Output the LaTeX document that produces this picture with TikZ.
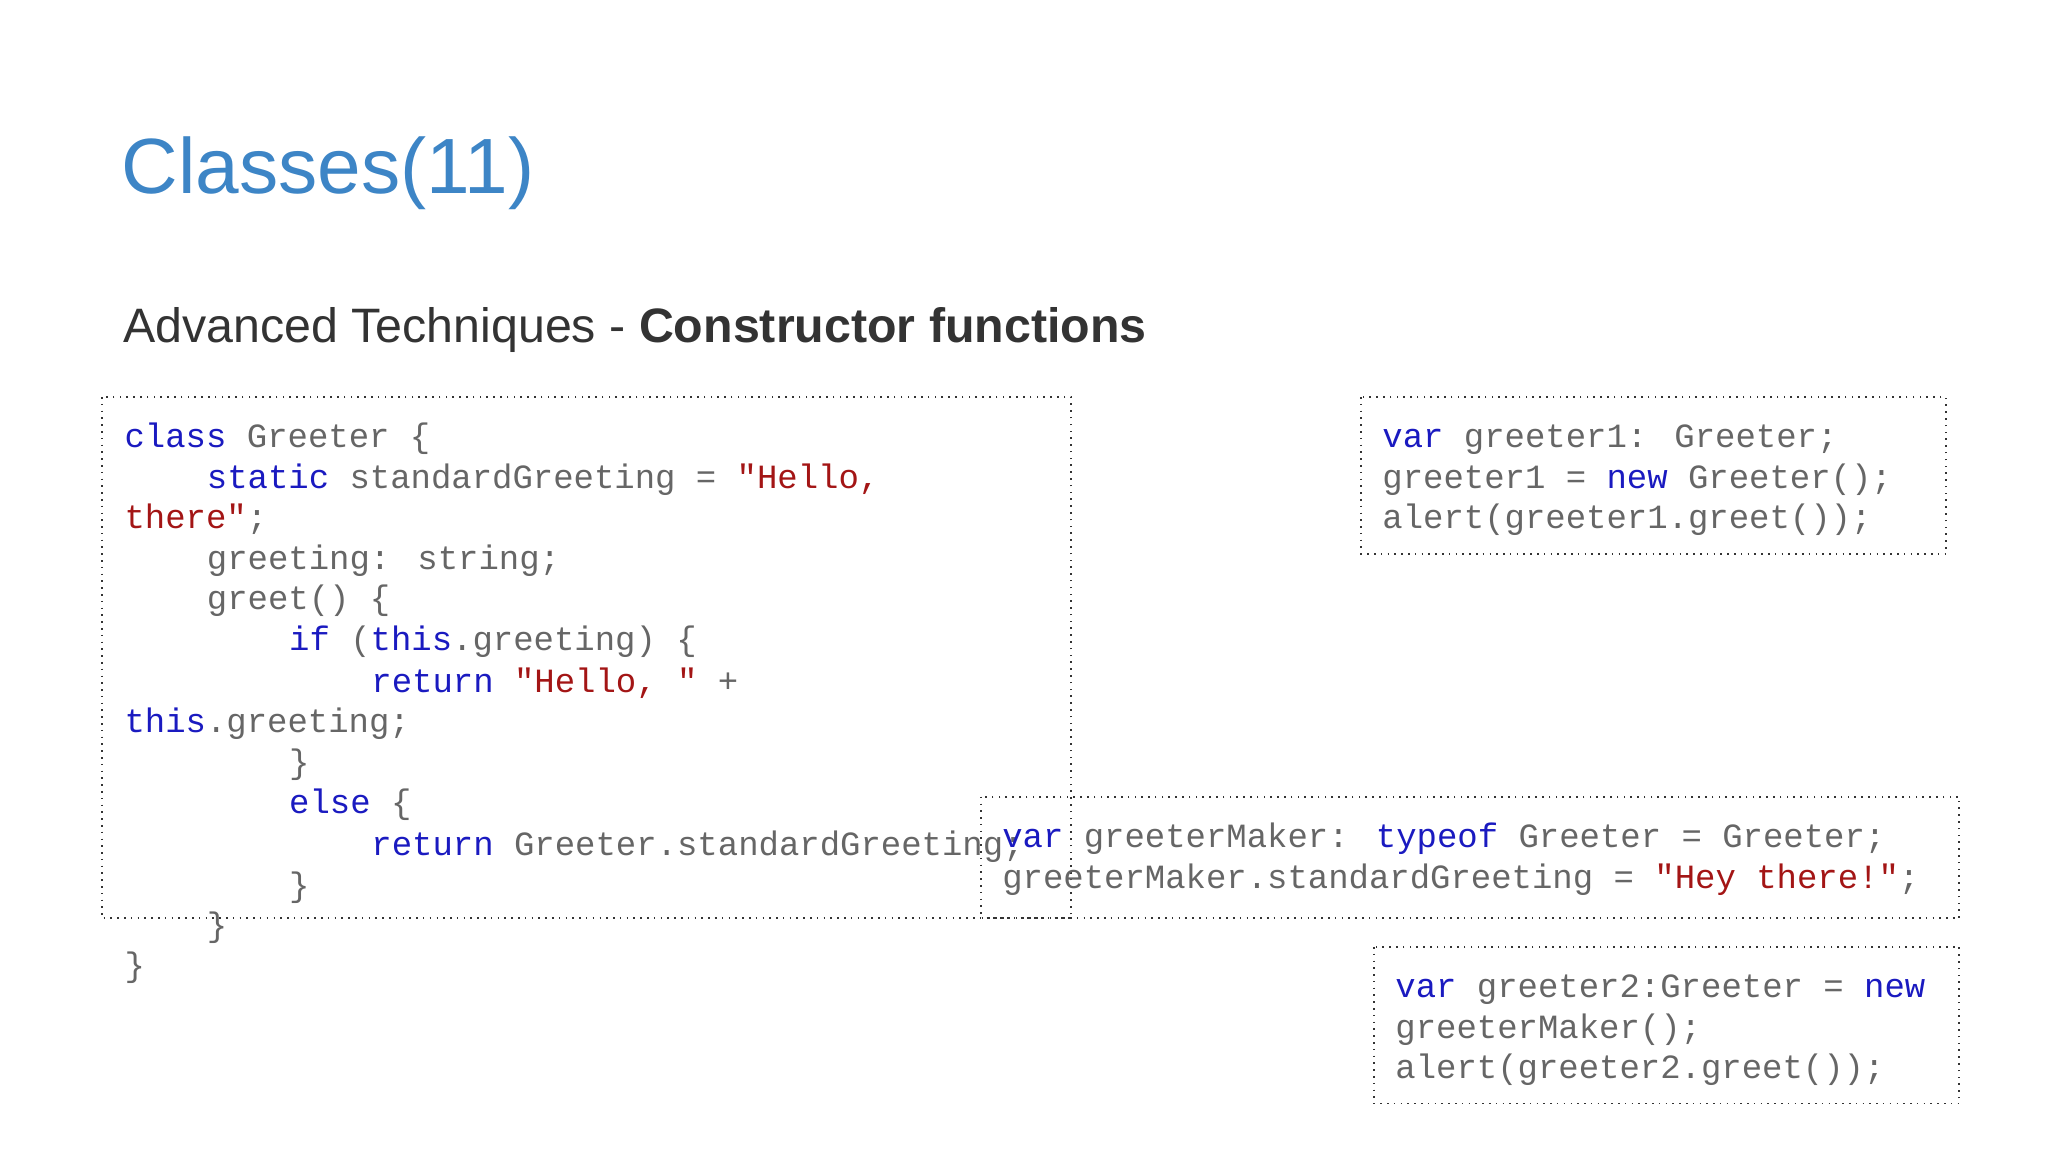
\documentclass[tikz,border=0pt]{standalone}
\usepackage{fontspec}
\setmainfont{Liberation Sans}
\newfontfamily\codefont{Liberation Mono}
\definecolor{ttl}{HTML}{3D85C6}
\definecolor{kw}{HTML}{1A1AC0}
\definecolor{st}{HTML}{A31515}
\definecolor{cg}{HTML}{666666}
\newcommand{\K}[1]{\textcolor{kw}{#1}}
\newcommand{\Sg}[1]{\textcolor{st}{#1}}
\begin{document}
\begin{tikzpicture}[x=0.5pt,y=-0.5pt,
  cl/.style={anchor=base west,inner sep=0,font=\codefont\fontsize{13pt}{15pt}\selectfont,text=cg},
  box/.style={draw=black!80,dotted,line width=0.6pt}]
\useasboundingbox (0,0) rectangle (1568,882);
\node[anchor=base west,inner sep=0,text=ttl,font=\fontsize{30pt}{36pt}\selectfont] (title) at (93,148) {Classes(11)};
\node[anchor=base west,inner sep=0,text=black!80,font=\fontsize{18.5pt}{22pt}\selectfont] (sub) at (94,262) {Advanced Techniques - \textbf{Constructor functions}};
\draw[box] (78,304) rectangle (820,703);
\draw[box] (1042,304) rectangle (1490,424);
\draw[box] (751,610) rectangle (1500,703);
\draw[box] (1052,725) rectangle (1500,845);
\node[cl] (a1) at (95,343) {\K{class} Greeter \{};
\node[cl] (a2) at (158,374) {\K{static} standardGreeting = \Sg{"Hello,}};
\node[cl] (a3) at (95,405) {\Sg{there"};};
\node[cl] (a4) at (158,436) {greeting: string;};
\node[cl] (a5) at (158,467) {greet() \{};
\node[cl] (a6) at (221,498) {\K{if} (\K{this}.greeting) \{};
\node[cl] (a7) at (284,530) {\K{return} \Sg{"Hello, "} +};
\node[cl] (a8) at (95,561) {\K{this}.greeting;};
\node[cl] (a9) at (221,592) {\}};
\node[cl] (a10) at (221,623) {\K{else} \{};
\node[cl] (a11) at (284,655) {\K{return} Greeter.standardGreeting;};
\node[cl] (a12) at (221,686) {\}};
\node[cl] (a13) at (158,717) {\}};
\node[cl] (a14) at (95,748) {\}};
\node[cl] (b1) at (1058,343) {\K{var} greeter1: Greeter;};
\node[cl] (b2) at (1058,374) {greeter1 = \K{new} Greeter();};
\node[cl] (b3) at (1058,405) {alert(greeter1.greet());};
\node[cl] (c1) at (767,649) {\K{var} greeterMaker: \K{typeof} Greeter = Greeter;};
\node[cl] (c2) at (767,680) {greeterMaker.standardGreeting = \Sg{"Hey there!"};};
\node[cl] (d1) at (1068,764) {\K{var} greeter2:Greeter = \K{new}};
\node[cl] (d2) at (1068,795) {greeterMaker();};
\node[cl] (d3) at (1068,826) {alert(greeter2.greet());};
\end{tikzpicture}
\end{document}
